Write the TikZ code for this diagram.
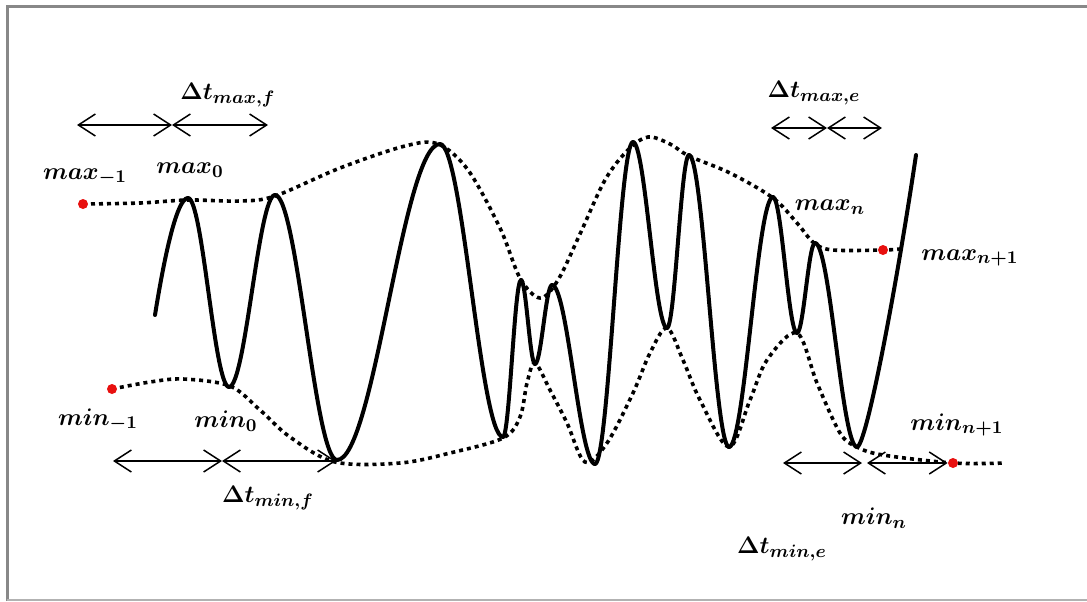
\documentclass[tikz,border=0pt]{standalone}
\usepackage{amsmath,amssymb}
\usepackage{tikz}
\usetikzlibrary{arrows.meta,positioning,calc}
\definecolor{frameGray}{HTML}{888888}
\definecolor{dotRed}{HTML}{E8100F}

\begin{document}
\begin{tikzpicture}[x=0.5pt,y=-0.5pt,
    signal/.style={line width=2pt,line cap=round,line join=round},
    envelope/.style={line width=1.8pt,dash pattern=on 2pt off 2pt},
    spanarrow/.style={{Straight Barb[length=8.5pt,width=11pt]}-{Straight Barb[length=8.5pt,width=11pt]},line width=0.75pt},
    extremum/.style={circle,fill=dotRed,minimum size=5pt,inner sep=0pt},
    lab/.style={font=\fontsize{12.5}{15}\selectfont}]
  \useasboundingbox (0,0) rectangle (1087,601);
  % frame
  \draw[frameGray,line width=1.5pt] (7,601) -- (7,6) -- (1087,6);
  \draw[gray!60,line width=0.8pt] (7,600) -- (1087,600);

  % envelopes
  \draw[envelope] plot[smooth,tension=0.55] coordinates {(83,204) (140,203) (188,200) (240,201) (275,196) (340,168) (405,146) (438,144) (468,170) (500,228) (520,278) (540,298) (558,280) (580,234) (605,180) (628,150) (648,137) (670,144) (689,156) (730,173) (773,198) (797,223) (814,243) (833,250) (883,250) (900,249)};
  \draw[envelope] plot[smooth,tension=0.55] coordinates {(112,389) (150,382) (183,379) (230,386) (260,410) (290,437) (335,462) (400,463) (450,453) (503,438) (520,417) (527,383) (535,363) (550,390) (567,423) (585,462) (607,443) (633,393) (650,353) (667,328) (683,360) (700,400) (729,447) (750,400) (767,360) (797,333) (817,383) (840,433) (857,447) (883,455) (953,463) (1005,463)};

  % signal
  \draw[signal] (155,315) .. controls (163,265) and (176,198) .. (188,198);
  \foreach \xa/\ya/\xb/\yb in {188/198/229/387, 229/387/275/195, 275/195/337/460, 337/460/440/144,
      440/144/503/437, 503/437/521/280, 521/280/535/364, 535/364/552/285, 552/285/595/464,
      595/464/633/142, 633/142/667/328, 667/328/689/155, 689/155/729/447, 729/447/773/197,
      773/197/797/333, 797/333/815/243, 815/243/857/447} {
    \draw[signal] (\xa,\ya) .. controls ({\xa+0.36*(\xb-\xa)},\ya) and ({\xb-0.36*(\xb-\xa)},\yb) .. (\xb,\yb);
  }
  \draw[signal] (857,447) .. controls (866,447) and (896,290) .. (916,155);

  % extrema outside the data
  \node[extremum] (pMaxA) at (83,204) {};
  \node[extremum] (pMinA) at (112,389) {};
  \node[extremum] (pMaxB) at (883,250) {};
  \node[extremum] (pMinB) at (953,463) {};

  % time spans
  \coordinate (mxf0) at (77,125);
  \coordinate (mxf1) at (172,125);
  \coordinate (mxf2) at (268,125);
  \coordinate (mnf0) at (113,461);
  \coordinate (mnf1) at (222,461);
  \coordinate (mnf2) at (336,461);
  \coordinate (mxe0) at (771,128);
  \coordinate (mxe1) at (827,128);
  \coordinate (mxe2) at (882,128);
  \coordinate (mne0) at (783,463);
  \coordinate (mne1) at (862,463);
  \coordinate (mne2) at (867,463);
  \draw[spanarrow] (mxf0) -- (mxf1);
  \draw[spanarrow] (mxf1) -- (mxf2);
  \draw[spanarrow] (mnf0) -- (mnf1);
  \draw[spanarrow] (mnf1) -- (mnf2);
  \draw[spanarrow] (mxe0) -- (mxe1);
  \draw[spanarrow] (mxe1) -- (mxe2);
  \draw[spanarrow] (mne0) -- (mne1);
  \draw[spanarrow] (mne2) -- (pMinB);

  % labels
  \node[lab] (tMaxA) at (85,177) {$\boldsymbol{max_{-1}}$};
  \node[lab] (tMax0) at (190,170) {$\boldsymbol{max_{0}}$};
  \node[lab] (tMinA) at (98,420) {$\boldsymbol{min_{-1}}$};
  \node[lab] (tMin0) at (226,421) {$\boldsymbol{min_{0}}$};
  \node[lab] (tMaxN) at (830,207) {$\boldsymbol{max_{n}}$};
  \node[lab] (tMaxB) at (970,258) {$\boldsymbol{max_{n+1}}$};
  \node[lab] (tMinB) at (957,425) {$\boldsymbol{min_{n+1}}$};
  \node[lab] (tMinN) at (874,518) {$\boldsymbol{min_{n}}$};
  \node[lab] (tDxf) at (228,95) {$\boldsymbol{\Delta t_{max,f}}$};
  \node[lab] (tDnf) at (268,498) {$\boldsymbol{\Delta t_{min,f}}$};
  \node[lab] (tDxe) at (814,93) {$\boldsymbol{\Delta t_{max,e}}$};
  \node[lab] (tDne) at (782,549) {$\boldsymbol{\Delta t_{min,e}}$};
\end{tikzpicture}
\end{document}
